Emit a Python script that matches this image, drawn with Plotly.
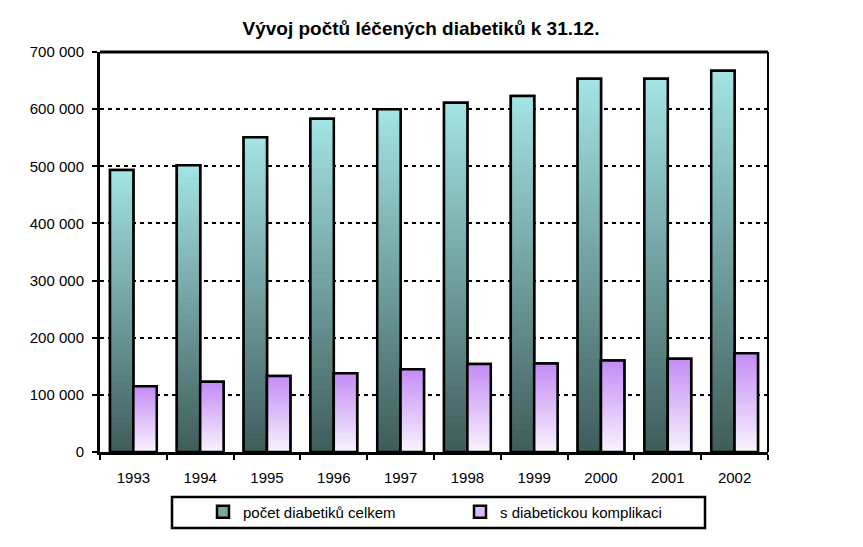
import plotly.graph_objects as go

years = ["1993", "1994", "1995", "1996", "1997", "1998", "1999", "2000", "2001", "2002"]
celkem = [493500, 502000, 551000, 583000, 600000, 611000, 623000, 653000, 653000, 667000]
komplikace = [115000, 123000, 133000, 138000, 145000, 154000, 155000, 160000, 163000, 173000]
names = ["počet diabetiků celkem", "s diabetickou komplikaci"]
y_ticks = [0, 100000, 200000, 300000, 400000, 500000, 600000, 700000]

FONT = "Liberation Sans, Arial, sans-serif"
N = 48


def lerp(c1, c2, t):
    return "rgb(%d,%d,%d)" % tuple(round(a + (b - a) * t) for a, b in zip(c1, c2))


series = [
    (celkem, names[0], "a", (62, 92, 90), (164, 228, 228)),
    (komplikace, names[1], "b", (250, 245, 253), (196, 140, 246)),
]

fig = go.Figure()
for vals, name, grp, bottom, top in series:
    # legend entry (drawn underneath)
    fig.add_trace(go.Bar(x=years, y=vals, name=name, offsetgroup=grp,
                         marker=dict(color=lerp(bottom, top, 0.55),
                                     line=dict(color="black", width=2.5)),
                         hoverinfo="skip"))
    # vertical gradient segments
    for k in range(N):
        c = lerp(bottom, top, (k + 0.5) / N)
        fig.add_trace(go.Bar(x=years, y=[v / N for v in vals],
                             base=[v * k / N for v in vals], offsetgroup=grp,
                             marker=dict(color=c, line=dict(color=c, width=0.8)),
                             showlegend=False, hoverinfo="skip"))
    # outline
    fig.add_trace(go.Bar(x=years, y=vals, name=name, offsetgroup=grp,
                         marker=dict(color="rgba(0,0,0,0)",
                                     line=dict(color="black", width=2.5)),
                         showlegend=False, hovertemplate="%{x}: %{y}<extra></extra>"))

fig.update_layout(
    width=863, height=547,
    paper_bgcolor="white", plot_bgcolor="white",
    margin=dict(l=100, r=95, t=52, b=95),
    barmode="group", bargap=0.3, bargroupgap=0,
    separators=", ",
    font=dict(family=FONT, size=15, color="black"),
    title=dict(text="<b>Vývoj počtů léčených diabetiků k 31.12.</b>",
               x=421 / 863, xanchor="center", y=1 - 28 / 547, yanchor="middle",
               font=dict(family=FONT, size=19, color="black")),
    showlegend=True,
    legend=dict(orientation="h", x=(203 - 100) / 668, xanchor="left",
                y=(452 - 512) / 400, yanchor="middle",
                bgcolor="rgba(0,0,0,0)", borderwidth=0,
                itemwidth=30, entrywidth=212, entrywidthmode="pixels",
                font=dict(family=FONT, size=15, color="black"),
                traceorder="normal", itemclick=False, itemdoubleclick=False),
    shapes=[
        dict(type="rect", xref="paper", yref="paper",
             x0=(172 - 100) / 668, x1=(705 - 100) / 668,
             y0=(452 - 528) / 400, y1=(452 - 497) / 400,
             line=dict(color="black", width=2.5), fillcolor="rgba(0,0,0,0)", layer="above"),
        dict(type="line", xref="paper", yref="paper", x0=0, x1=1, y0=1, y1=1,
             line=dict(color="black", width=3), layer="above"),
        dict(type="line", xref="paper", yref="paper", x0=1, x1=1, y0=0, y1=1,
             line=dict(color="black", width=2), layer="above"),
    ],
)

fig.update_xaxes(
    type="category", showline=True, linecolor="black", linewidth=3,
    ticks="outside", tickson="boundaries", ticklen=5, tickwidth=2, tickcolor="black",
    ticklabelstandoff=10,
    showgrid=False, tickfont=dict(family=FONT, size=15, color="black"),
    fixedrange=True,
)
fig.update_yaxes(
    range=[0, 700000], tickvals=y_ticks, tickformat=",.0f",
    showline=True, linecolor="black", linewidth=3,
    ticks="outside", ticklen=5, tickwidth=2, tickcolor="black",
    ticklabelstandoff=5,
    showgrid=True, gridcolor="black", gridwidth=2, griddash="4px,4px",
    zeroline=False, tickfont=dict(family=FONT, size=15, color="black"),
    fixedrange=True,
)

fig.write_html("out.html")
